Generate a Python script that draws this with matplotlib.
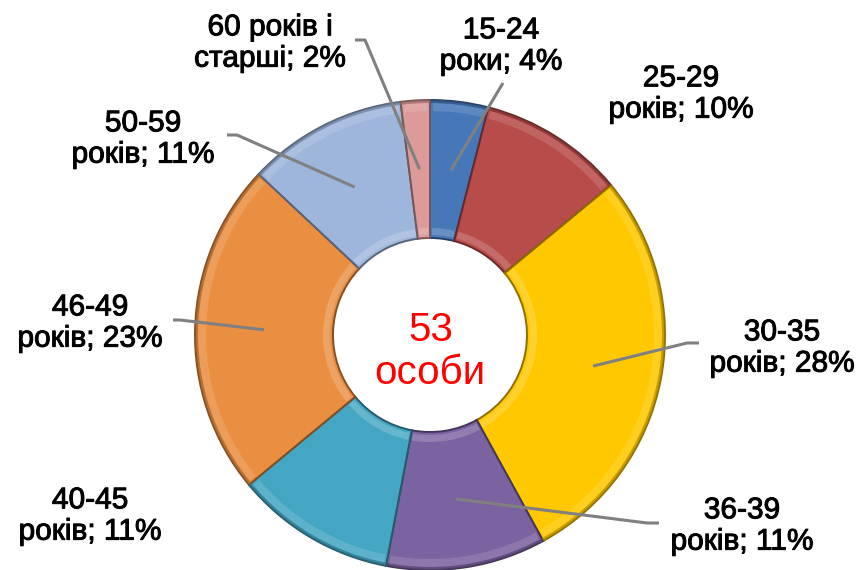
import numpy as np
import matplotlib
matplotlib.use("Agg")
import matplotlib.pyplot as plt
import matplotlib.patheffects as pe
from matplotlib.patches import Wedge
from matplotlib.colors import to_rgb

# ---- data ----
categories = ["15-24\nроки", "25-29\nроків", "30-35\nроків", "36-39\nроків",
              "40-45\nроків", "46-49\nроків", "50-59\nроків", "60 років і\nстарші"]
shares = [4, 10, 28, 11, 11, 23, 11, 2]
total_people = 53
center_label = "особи"

colors = ["#4677b8", "#b84c4a", "#ffc800", "#7b62a0",
          "#45a6c3", "#ea8f42", "#9fb6dc", "#dc9a9a"]

# ---- layout (pixel space, y measured from the top) ----
W, H = 862, 570
CX, CY = 430, 335
R_OUT, R_IN = 235, 97

# label block centres and leader-line anchors (None = no leader line)
label_pos = [(501, 46), (681, 94), (782, 348), (742, 526),
             (90, 516), (90, 323), (143, 139), (270, 43)]
leader_anchor = [[(503, 83)], None, [(699, 343), (687, 343)], [(659, 523), (647, 523)],
                 None, [(173, 320), (180, 320)], [(227, 135), (237, 135)], [(355, 40), (365, 40)]]

plt.rcParams['font.family'] = ['Liberation Sans', 'DejaVu Sans']

fig = plt.figure(figsize=(W / 100, H / 100), dpi=100)
ax = fig.add_axes([0, 0, 1, 1])


def Y(y):
    return H - y


def shade(c, f):
    r, g, b = to_rgb(c)
    return (r * f, g * f, b * f)


wedges, _ = ax.pie(shares, colors=colors, startangle=90, counterclock=False,
                   radius=R_OUT, center=(CX, Y(CY)),
                   wedgeprops=dict(width=R_OUT - R_IN, linewidth=1.4))
for w, c in zip(wedges, colors):
    w.set_edgecolor(shade(c, 0.55))

# bevel-like highlights
for w, c in zip(wedges, colors):
    t1, t2 = w.theta1, w.theta2
    ax.add_patch(Wedge((CX, Y(CY)), R_OUT - 3, t1 + 0.7, t2 - 0.7, width=8,
                       facecolor="white", alpha=0.13, linewidth=0))
    ax.add_patch(Wedge((CX, Y(CY)), R_IN + 10, t1 + 1.0, t2 - 1.0, width=7,
                       facecolor="white", alpha=0.18, linewidth=0))
    ax.add_patch(Wedge((CX, Y(CY)), R_OUT, t1, t2, width=3,
                       facecolor=shade(c, 0.65), alpha=0.6, linewidth=0))

# labels and leader lines
r_mid = (R_OUT + R_IN) / 2
thick = [pe.withStroke(linewidth=0.7, foreground="black")]
for w, cat, s, (lx, ly), anc in zip(wedges, categories, shares, label_pos, leader_anchor):
    top, bottom = cat.split("\n")
    ax.text(lx, Y(ly), f"{top}\n{bottom}; {s}%", ha="center", va="center",
            fontsize=21.5, color="black", linespacing=1.15, path_effects=thick)
    if anc is not None:
        ang = np.deg2rad((w.theta1 + w.theta2) / 2)
        px = CX + r_mid * np.cos(ang)
        py = Y(CY) + r_mid * np.sin(ang)
        xs = [a[0] for a in anc] + [px]
        ys = [Y(a[1]) for a in anc] + [py]
        ax.plot(xs, ys, color="#808080", linewidth=2.2, solid_capstyle="butt")

ax.text(CX + 1, Y(330), str(total_people), ha="center", va="center",
        fontsize=29, color="#ff0000")
ax.text(CX, Y(373), center_label, ha="center", va="center",
        fontsize=29, color="#ff0000")

ax.set_xlim(0, W)
ax.set_ylim(0, H)
ax.set_aspect("equal", adjustable="datalim")
ax.axis("off")

fig.savefig("out.png", dpi=100)
